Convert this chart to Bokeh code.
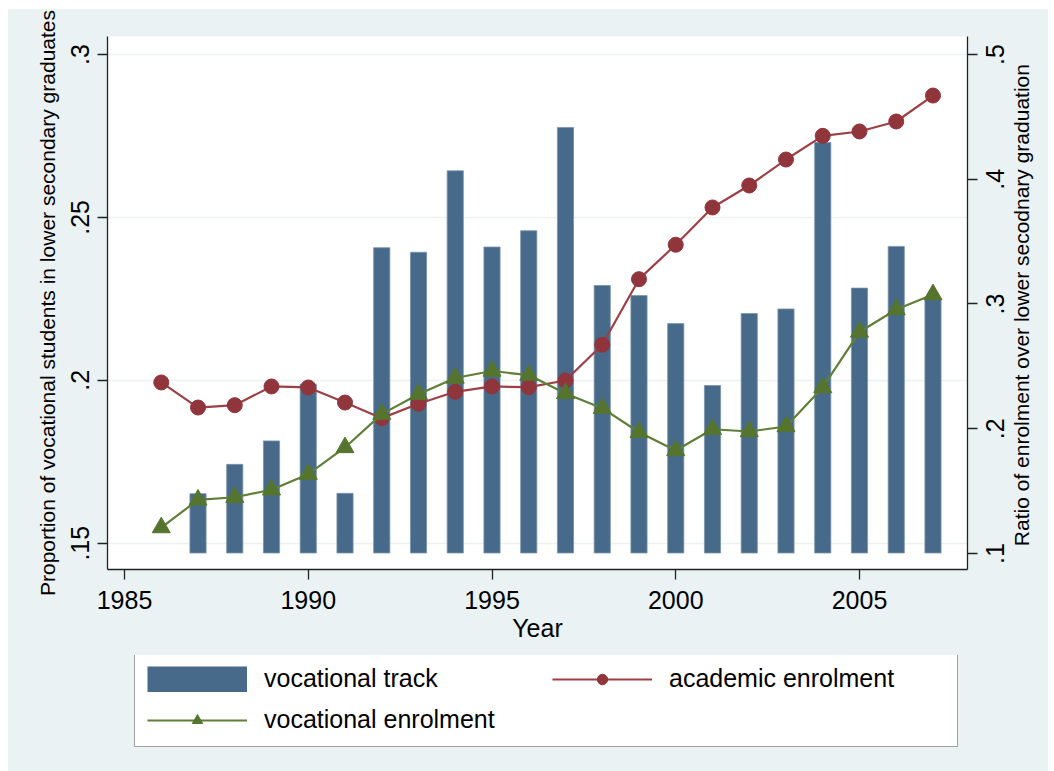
import math
from bokeh.plotting import figure
from bokeh.layouts import column
from bokeh.models import (Range1d, LinearAxis, FixedTicker, Legend, LegendItem,
                          ColumnDataSource)
from bokeh.embed import file_html
from bokeh.resources import INLINE

# ---------------- data ----------------
years = [1986, 1987, 1988, 1989, 1990, 1991, 1992, 1993, 1994, 1995, 1996,
         1997, 1998, 1999, 2000, 2001, 2002, 2003, 2004, 2005, 2006, 2007]

# proportion of vocational students (left axis), no bar for 1986
bar_years = years[1:]
vocational_track = [0.1652, 0.1742, 0.1814, 0.1988, 0.1653, 0.2407, 0.2393,
                    0.2643, 0.2409, 0.2459, 0.2776, 0.2291, 0.2260, 0.2174,
                    0.1984, 0.2205, 0.2219, 0.2730, 0.2283, 0.2411, 0.2252]
bar_base = 0.147

# ratios (right axis)
academic_enrolment = [0.2371, 0.2170, 0.2189, 0.2339, 0.2331, 0.2210, 0.2085,
                      0.2200, 0.2296, 0.2339, 0.2333, 0.2387, 0.2673, 0.3199,
                      0.3475, 0.3774, 0.3950, 0.4158, 0.4348, 0.4383, 0.4463,
                      0.4671]
vocational_enrolment = [0.1208, 0.1430, 0.1451, 0.1511, 0.1636, 0.1850, 0.2117,
                        0.2277, 0.2407, 0.2463, 0.2430, 0.2283, 0.2165, 0.1972,
                        0.1826, 0.1996, 0.1978, 0.2018, 0.2331, 0.2776, 0.2956,
                        0.3076]

x_ticks = [1985, 1990, 1995, 2000, 2005]
left_ticks = [0.15, 0.2, 0.25, 0.3]
left_tick_labels = [".15", ".2", ".25", ".3"]
right_ticks = [0.1, 0.2, 0.3, 0.4, 0.5]
right_tick_labels = [".1", ".2", ".3", ".4", ".5"]

# ---------------- style ----------------
BG = "#EAF2F3"
NAVY = "#486A8A"
MAROON = "#90353B"
GREEN = "#55752F"
AXIS = "#222222"
FONT = "Liberation Sans"
RIGHT_LABEL_SHIFT = 0.0084   # half a rotated label, in right-axis units

src_bar = ColumnDataSource(dict(x=bar_years, top=vocational_track,
                                bottom=[bar_base] * len(bar_years)))
src_l = ColumnDataSource(dict(x=years, a=academic_enrolment, v=vocational_enrolment))


def add_lines(fig, yr):
    rl = fig.line("x", "a", source=src_l, y_range_name=yr,
                  line_color="#9c4046", line_width=2.2)
    rp = fig.scatter("x", "a", source=src_l, y_range_name=yr, marker="circle",
                     size=15, fill_color=MAROON, line_color=MAROON)
    gl = fig.line("x", "v", source=src_l, y_range_name=yr,
                  line_color="#5f7f38", line_width=2.2)
    gp = fig.scatter("x", "v", source=src_l, y_range_name=yr, marker="triangle",
                     size=18, fill_color=GREEN, line_color=GREEN)
    return rl, rp, gl, gp


# ---------------- main chart ----------------
p = figure(width=1040, height=646, output_backend="svg", toolbar_location=None,
           x_range=Range1d(1984.537, 2007.939), y_range=Range1d(0.14193, 0.30552),
           min_border_left=99, min_border_right=81, min_border_top=27,
           min_border_bottom=86)
p.background_fill_color = "white"
p.border_fill_color = BG
p.outline_line_color = None
p.extra_y_ranges = {"right": Range1d(0.08717, 0.51443)}
p.vbar(x="x", top="top", bottom="bottom", width=0.44, source=src_bar,
       fill_color=NAVY, line_color="#7a93ab", line_width=0.8)
add_lines(p, "right")


def style_axis(ax):
    ax.axis_line_color = AXIS
    ax.axis_line_width = 1.3
    ax.major_tick_line_color = AXIS
    ax.major_tick_line_width = 1.3
    ax.major_tick_out = 10
    ax.major_tick_in = 0
    ax.minor_tick_line_color = None
    ax.major_label_text_font = FONT
    ax.major_label_text_font_size = "25px"
    ax.major_label_text_color = "black"
    ax.axis_label_text_font = FONT
    ax.axis_label_text_font_style = "normal"
    ax.axis_label_text_color = "black"


xa = p.xaxis[0]
style_axis(xa)
xa.ticker = FixedTicker(ticks=x_ticks)
xa.axis_label = "Year"
xa.axis_label_text_font_size = "25px"
xa.major_label_standoff = 11
xa.axis_label_standoff = 2

ya = p.yaxis[0]
style_axis(ya)
ya.ticker = FixedTicker(ticks=left_ticks)
ya.major_label_overrides = dict(zip(left_ticks, left_tick_labels))
ya.major_label_orientation = "vertical"
ya.axis_label = "Proportion of vocational students in lower secondary graduates"
ya.axis_label_text_font_size = "21px"
ya.major_label_standoff = 8
ya.axis_label_standoff = 10

# right axis: line + tick marks only (drawn as minor ticks, so no labels)
ra = LinearAxis(y_range_name="right")
style_axis(ra)
ra.ticker = FixedTicker(ticks=[], minor_ticks=right_ticks)
ra.minor_tick_line_color = AXIS
ra.minor_tick_line_width = 1.3
ra.minor_tick_out = 10
ra.minor_tick_in = 0
ra.major_label_standoff = 0
p.add_layout(ra, "right")

# right axis: labels (rotated to read bottom-to-top, centred on the ticks)
shifted = [t - RIGHT_LABEL_SHIFT for t in right_ticks]
rl_ax = LinearAxis(y_range_name="right")
style_axis(rl_ax)
rl_ax.axis_line_color = None
rl_ax.major_tick_line_color = None
rl_ax.major_tick_out = 0
rl_ax.ticker = FixedTicker(ticks=shifted)
rl_ax.major_label_overrides = dict(zip(shifted, right_tick_labels))
rl_ax.major_label_orientation = math.pi / 2
rl_ax.major_label_standoff = 18
rl_ax.axis_label = "\u00a0\u00a0\u00a0\u00a0Ratio of enrolment over lower secodnary graduation"
rl_ax.axis_label_text_font_size = "21px"
rl_ax.axis_label_orientation = math.pi / 2
rl_ax.axis_label_align = "start"
rl_ax.axis_label_standoff = 5
p.add_layout(rl_ax, "right")

p.xgrid.visible = False
p.ygrid.ticker = FixedTicker(ticks=left_ticks)
p.ygrid.grid_line_color = BG
p.ygrid.grid_line_width = 1.5

# ---------------- legend strip ----------------
# the strip's ranges lie away from the data, so only the legend shows
q = figure(width=1040, height=116, output_backend="svg", toolbar_location=None,
           x_range=Range1d(3000, 3001), y_range=Range1d(5, 6),
           x_axis_location=None, y_axis_location=None, min_border=0)
q.extra_y_ranges = {"right": Range1d(5, 6)}
q.background_fill_color = BG
q.border_fill_color = BG
q.outline_line_color = None
q.grid.visible = False
b = q.line("x", "top", source=src_bar, line_color=NAVY, line_width=26)
rl, rp, gl, gp = add_lines(q, "right")

legend = Legend(items=[
    LegendItem(label="vocational track", renderers=[b]),
    LegendItem(label="vocational enrolment", renderers=[gl, gp]),
    LegendItem(label="academic enrolment", renderers=[rl, rp]),
], ncols=2, location=(27, 24))
legend.glyph_width = 100
legend.glyph_height = 26
legend.label_standoff = 17
legend.label_width = 276
legend.spacing = 12
legend.padding = 12
legend.margin = 0
legend.label_text_font = FONT
legend.label_text_font_size = "25px"
legend.label_text_color = "black"
legend.border_line_color = "#444444"
legend.border_line_width = 1.5
legend.background_fill_color = "white"
legend.background_fill_alpha = 1
q.add_layout(legend, "center")

layout = column(p, q, spacing=0, margin=(9, 0, 0, 8), styles={"background-color": BG})
open("out.html", "w").write(file_html(layout, INLINE))
